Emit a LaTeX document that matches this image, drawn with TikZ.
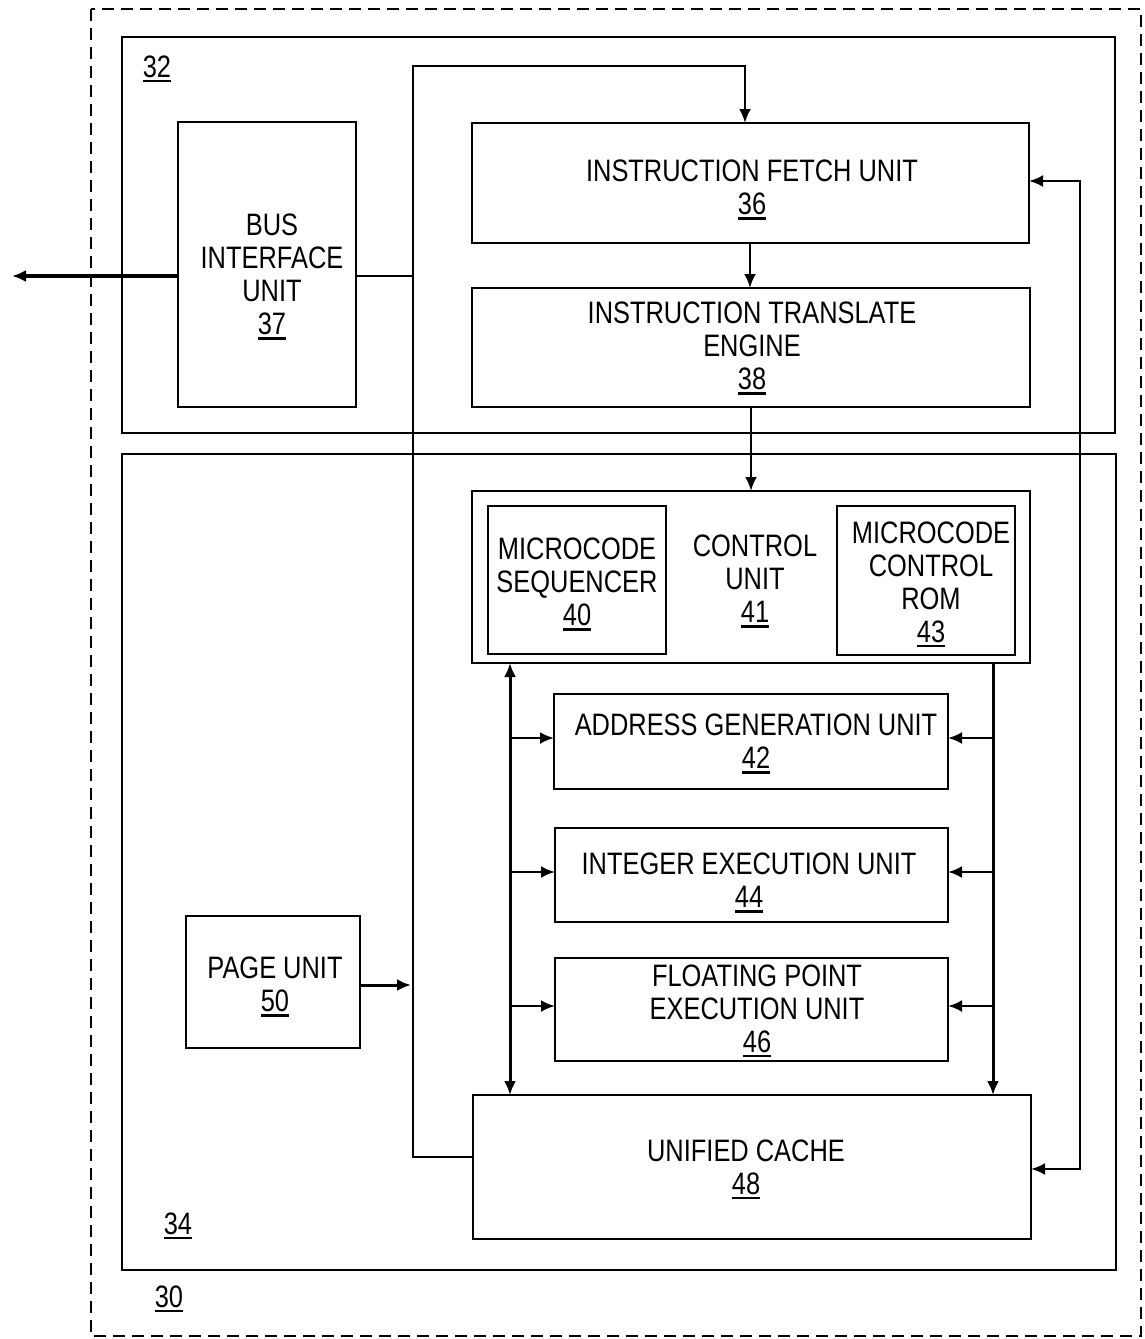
\documentclass[tikz,border=0pt]{standalone}
\usepackage{fontspec}
\setmainfont{Liberation Sans}[FakeStretch=0.82]
\newsavebox\rnbox
\newcommand\rn[1]{\sbox\rnbox{#1}\leavevmode\rlap{\raisebox{-5pt}{\rule{\wd\rnbox}{2.6pt}}}\usebox\rnbox}
\usetikzlibrary{arrows.meta}
\begin{document}
\begin{tikzpicture}[x=1pt,y=-1pt,
  every node/.style={font=\fontsize{31}{33}\selectfont, inner sep=0pt, outer sep=0pt},
  box/.style={draw, line width=2.7pt, rectangle},
  txt/.style={align=center},
  frame/.style={draw, line width=2.8pt, rectangle},
  conn/.style={line width=2.6pt},
  arr/.style={conn, -{Latex[length=14pt,width=12pt]}},
  darr/.style={conn, {Latex[length=14pt,width=12pt]}-{Latex[length=14pt,width=12pt]}},
  lbl/.style={anchor=center}
]
\useasboundingbox (0,0) rectangle (1144,1339);
% outer dashed frame 30
\draw[line width=2.6pt, dash pattern=on 12pt off 7pt] (91,9) rectangle (1141,1336);
% frames 32 and 34
\node[frame, minimum width=993, minimum height=396] (f32) at (618.5,235) {};
\node[frame, minimum width=994, minimum height=816] (f34) at (619,862) {};
\node[lbl] (l32) at (157,69) {\rn{32}};
\node[lbl] (l34) at (178,1226) {\rn{34}};
\node[lbl] (l30) at (169,1299) {\rn{30}};
% boxes
\node[box, minimum width=178, minimum height=285] (bus) at (267,264.5) {};
\node[txt] (bustxt) at (272,277) {BUS\\INTERFACE\\UNIT\\\rn{37}};
\node[box, minimum width=557, minimum height=120] (ifu) at (750.5,183) {};
\node[txt] (ifutxt) at (752,190) {INSTRUCTION FETCH UNIT\\\rn{36}};
\node[box, minimum width=558, minimum height=119] (ite) at (751,347.5) {};
\node[txt] (itetxt) at (752,348.5) {INSTRUCTION TRANSLATE\\ENGINE\\\rn{38}};
\node[box, minimum width=558, minimum height=172] (cu) at (751,577) {};
\node[txt] (cutxt) at (755,581.5) {CONTROL\\UNIT\\\rn{41}};
\node[box, minimum width=178, minimum height=148] (seq) at (577,580) {};
\node[txt] (seqtxt) at (577,584.5) {MICROCODE\\SEQUENCER\\\rn{40}};
\node[box, minimum width=178, minimum height=149] (rom) at (926,580.5) {};
\node[txt] (romtxt) at (931,584.5) {MICROCODE\\CONTROL\\ROM\\\rn{43}};
\node[box, minimum width=394, minimum height=95] (agu) at (751,741.5) {};
\node[txt] (agutxt) at (756,744) {ADDRESS GENERATION UNIT\\\rn{42}};
\node[box, minimum width=393, minimum height=94] (ieu) at (751.5,875) {};
\node[txt] (ieutxt) at (749,883) {INTEGER EXECUTION UNIT\\\rn{44}};
\node[box, minimum width=393, minimum height=103] (fpu) at (751.5,1009.5) {};
\node[txt] (fputxt) at (757,1011) {FLOATING POINT\\EXECUTION UNIT\\\rn{46}};
\node[box, minimum width=558, minimum height=144] (cache) at (752,1167) {};
\node[txt] (cachetxt) at (746,1169.5) {UNIFIED CACHE\\\rn{48}};
\node[box, minimum width=174, minimum height=132] (page) at (273,982) {};
\node[txt] (pagetxt) at (275,987) {PAGE UNIT\\\rn{50}};
% connectors
\coordinate (tl) at (413,66);
\coordinate (bl) at (413,1157);
\coordinate (rt) at (1080,181);
\coordinate (ext) at (12,276);
\draw[arr] (cache.west |- bl) -- (bl) -- (tl) -| (ifu.north -| 745,0);
\draw[conn] (bus.east |- 0,276) -- (413,276);
\draw[conn, line width=3.4pt, -{Latex[length=14pt,width=12pt]}] (bus.west |- ext) -- (ext);
\draw[arr, line width=3pt] (page.east |- 0,985) -- (411,985);
\draw[arr] (ifu.south -| 750,0) -- (ite.north -| 750,0);
\draw[arr] (ite.south -| 751,0) -- (cu.north -| 751,0);
\draw[darr, line width=3pt] (cu.south -| 510,0) -- (cache.north -| 510,0);
\draw[arr] (510,738) -- (agu.west |- 0,738);
\draw[arr] (510,872) -- (ieu.west |- 0,872);
\draw[arr] (510,1006) -- (fpu.west |- 0,1006);
\draw[arr, line width=3pt] (cu.south -| 993,0) -- (cache.north -| 993,0);
\draw[arr] (993,738) -- (agu.east |- 0,738);
\draw[arr] (993,872) -- (ieu.east |- 0,872);
\draw[arr] (993,1006) -- (fpu.east |- 0,1006);
\draw[darr] (ifu.east |- rt) -- (rt) -- (1080,1169) -- (cache.east |- 0,1169);
\end{tikzpicture}
\end{document}
